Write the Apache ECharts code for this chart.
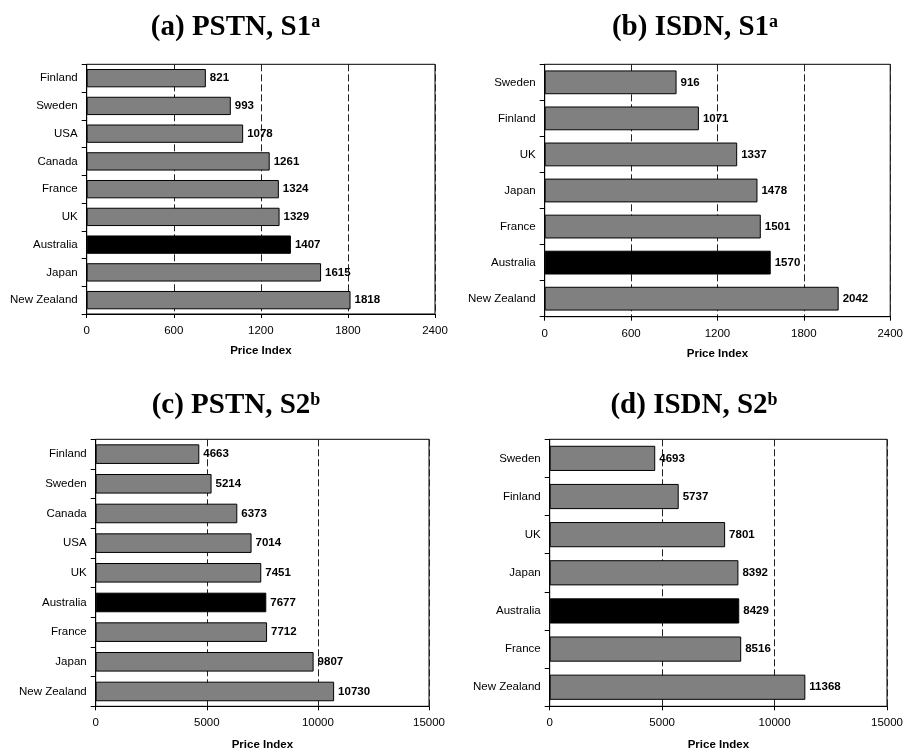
<!DOCTYPE html>
<html>
<head>
<meta charset="utf-8">
<script src="https://cdn.jsdelivr.net/npm/echarts@6/dist/echarts.min.js"></script>
<style>
html,body{margin:0;padding:0;background:#fff;}
#chart{width:906px;height:754px;}
</style>
</head>
<body>
<div id="chart"></div>
<script>
// ---- Data ----
var catsA = ['Finland','Sweden','USA','Canada','France','UK','Australia','Japan','New Zealand'];
var valsA = [821, 993, 1078, 1261, 1324, 1329, 1407, 1615, 1818];
var catsB = ['Sweden','Finland','UK','Japan','France','Australia','New Zealand'];
var valsB = [916, 1071, 1337, 1478, 1501, 1570, 2042];
var catsC = ['Finland','Sweden','Canada','USA','UK','Australia','France','Japan','New Zealand'];
var valsC = [4663, 5214, 6373, 7014, 7451, 7677, 7712, 9807, 10730];
var catsD = ['Sweden','Finland','UK','Japan','Australia','France','New Zealand'];
var valsD = [4693, 5737, 7801, 8392, 8429, 8516, 11368];
var titles = [['(a) PSTN, S1','a'],['(b) ISDN, S1','a'],['(c) PSTN, S2','b'],['(d) ISDN, S2','b']];
var axisName = 'Price Index';
var ranges = [[0,2400,600],[0,2400,600],[0,15000,5000],[0,15000,5000]];
var highlight = 'Australia';

var SANS = 'Liberation Sans, Arial, sans-serif';
var SERIF = 'Liberation Serif, Times New Roman, serif';

var panels = [
  {cats: catsA, vals: valsA, grid: {left: 86.7, top: 64.3, width: 348.3, height: 249.7}, tx: 230.5, ty: 8, gap: 31},
  {cats: catsB, vals: valsB, grid: {left: 544.7, top: 64.3, width: 348.3, height: 252.4}, tx: 690, ty: 8, gap: 31},
  {cats: catsC, vals: valsC, grid: {left: 95.7, top: 439.3, width: 333.3, height: 267}, tx: 231, ty: 386, gap: 33},
  {cats: catsD, vals: valsD, grid: {left: 549.7, top: 439.3, width: 339.3, height: 267}, tx: 689, ty: 386, gap: 33}
];

var option = {
  animation: false,
  backgroundColor: '#fff',
  title: [], grid: [], xAxis: [], yAxis: [], series: []
};

panels.forEach(function(p, i){
  option.title.push({
    text: '{m|' + titles[i][0] + '}{s|' + titles[i][1] + '}',
    left: p.tx, top: p.ty, textAlign: 'center',
    textStyle: {
      rich: {
        m: {fontFamily: SERIF, fontWeight: 'bold', fontSize: 29, color: '#000'},
        s: {fontFamily: SERIF, fontWeight: 'bold', fontSize: 18, color: '#000', verticalAlign: 'top'}
      }
    }
  });
  option.grid.push(Object.assign({show: true, borderColor: '#000', borderWidth: 1, backgroundColor: 'transparent'}, p.grid));
  option.xAxis.push({
    type: 'value', gridIndex: i,
    min: ranges[i][0], max: ranges[i][1], interval: ranges[i][2],
    name: axisName, nameLocation: 'middle', nameGap: p.gap,
    nameTextStyle: {fontFamily: SANS, fontWeight: 'bold', fontSize: 11.5, color: '#000'},
    axisLine: {show: true, lineStyle: {color: '#000', width: 1}},
    axisTick: {show: true, length: 4, lineStyle: {color: '#000'}},
    axisLabel: {fontFamily: SANS, fontSize: 11.5, color: '#000', margin: 11,
      formatter: function(v){ return String(v); }},
    splitLine: {show: true, lineStyle: {color: '#222', type: [7, 3], width: 1}}
  });
  option.yAxis.push({
    type: 'category', gridIndex: i, data: p.cats, inverse: true,
    axisLine: {show: true, lineStyle: {color: '#000', width: 1}},
    axisTick: {show: true, length: 5, lineStyle: {color: '#000'}},
    axisLabel: {fontFamily: SANS, fontSize: 11.5, color: '#000', margin: 9},
    splitLine: {show: false}
  });
  option.series.push({
    type: 'bar', xAxisIndex: i, yAxisIndex: i,
    barCategoryGap: '34%',
    data: p.vals.map(function(v, k){
      var hl = p.cats[k] === highlight;
      return {value: v, itemStyle: {color: hl ? '#000' : '#808080', borderColor: '#000', borderWidth: 1}};
    }),
    label: {show: true, position: 'right', distance: 4, fontFamily: SANS, fontWeight: 'bold', fontSize: 11.5, color: '#000'}
  });
});

var chart = echarts.init(document.getElementById('chart'), null, {renderer: 'canvas'});
chart.setOption(option);
</script>
</body>
</html>
